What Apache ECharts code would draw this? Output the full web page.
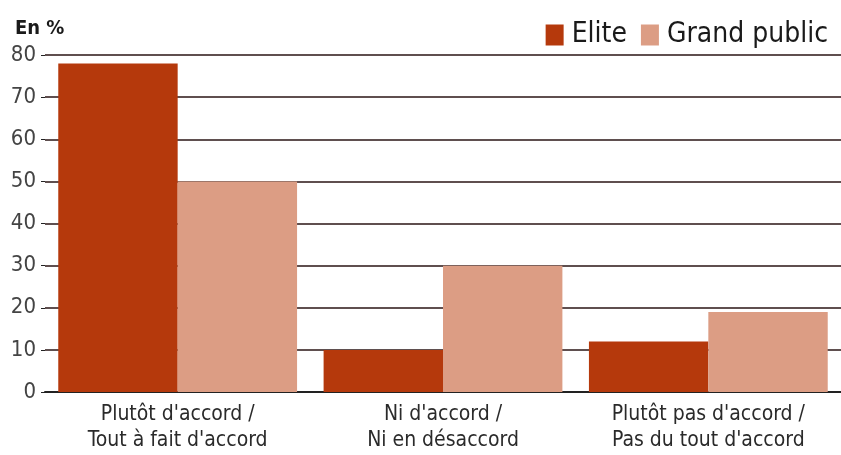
<!DOCTYPE html>
<html><head><meta charset="utf-8">
<script src="https://cdn.jsdelivr.net/npm/echarts@6/dist/echarts.min.js"></script>
<style>html,body{margin:0;padding:0;background:#fff}#c{width:841px;height:455px}</style>
</head><body><div id="c"></div>
<script>
var categories = ["Plutôt d'accord /\nTout à fait d'accord", "Ni d'accord /\nNi en désaccord", "Plutôt pas d'accord /\nPas du tout d'accord"];
var elite = [78, 10, 12];
var grandPublic = [50, 30, 19];
var yTicks = [0, 10, 20, 30, 40, 50, 60, 70, 80];
var FONT = "'Liberation Sans Narrow', 'DejaVu Sans Condensed', sans-serif";
var chart = echarts.init(document.getElementById('c'));
chart.setOption({
  animation: false,
  title: { text: 'En %', left: 10, top: 14, textStyle: { fontFamily: FONT, fontSize: 20, fontWeight: 'bold', color: '#1a1a1a' } },
  legend: { right: 8, top: 16, itemWidth: 18, itemHeight: 21, itemGap: 14, icon: 'rect',
    textStyle: { fontFamily: FONT, fontSize: 28, color: '#1a1a1a', padding: [0, 0, 0, 3] },
    data: ['Elite', 'Grand public'] },
  grid: { left: 45, width: 802, top: 55, bottom: 63 },
  xAxis: { type: 'category', data: categories,
    axisLine: { show: true, lineStyle: { color: '#222', width: 2 } },
    axisTick: { show: false },
    axisLabel: { fontFamily: FONT, fontSize: 21, color: '#2a2a2a', lineHeight: 26, margin: 10 } },
  yAxis: { type: 'value', min: yTicks[0], max: yTicks[yTicks.length - 1], interval: 10,
    axisLine: { show: false },
    axisTick: { show: true, length: 4, lineStyle: { color: '#222' } },
    axisLabel: { fontFamily: FONT, fontSize: 22, color: '#444', margin: 9 },
    splitLine: { lineStyle: { color: '#2a1515', width: 1.5 } } },
  series: [
    { name: 'Elite', type: 'bar', data: elite, barGap: '0%', barCategoryGap: '10%', itemStyle: { color: '#b5390c' } },
    { name: 'Grand public', type: 'bar', data: grandPublic, itemStyle: { color: '#dc9d84' } }
  ]
});
</script></body></html>
